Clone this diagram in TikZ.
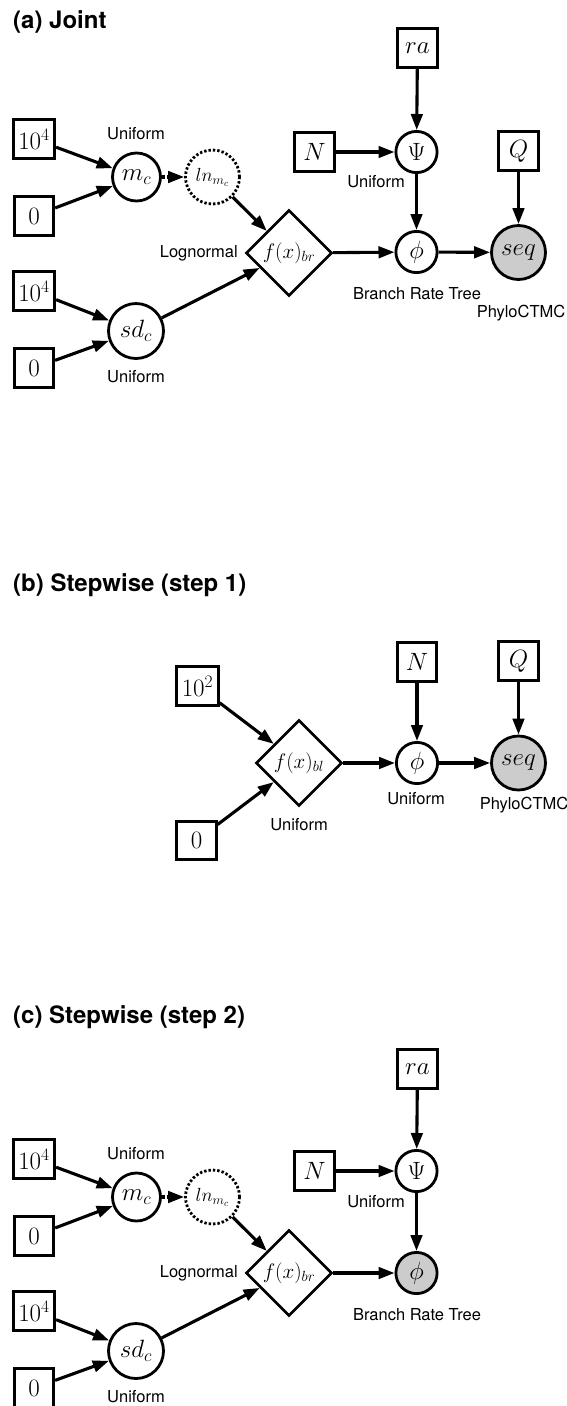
\documentclass[tikz,border=0pt]{standalone}
\usepackage{fix-cm}
\usepackage{fontspec}
\newfontfamily\helv{TeX Gyre Heros}
\usetikzlibrary{shapes.geometric,arrows.meta}
\newcommand{\mfs}{\fontsize{25}{30}\selectfont}
\newcommand{\sfs}{\fontsize{21}{25}\selectfont}
\newcommand{\lfs}{\helv\fontsize{16.5}{20}\selectfont}
\newcommand{\tfs}{\helv\bfseries\fontsize{24}{29}\selectfont}
\tikzset{
  const/.style={draw, line width=2.8pt, minimum width=39.5pt, minimum height=38.5pt, inner sep=5pt, font=\mfs},
  stoch/.style={circle, draw, line width=2.8pt, inner sep=0pt, minimum size=41.2pt, font=\mfs},
  obs/.style={stoch, fill=black!20},
  det/.style={circle, draw, line width=2.8pt, dash pattern=on 2.4pt off 2pt, minimum size=54pt, inner sep=0pt, font=\fontsize{19}{23}\selectfont},
  fn/.style={diamond, draw, line width=2.6pt, minimum size=86pt, inner sep=0pt, aspect=1, font=\sfs},
  lab/.style={inner sep=0pt, font=\lfs},
  ttl/.style={inner sep=0pt, anchor=west, font=\tfs},
  arr/.style={-{Triangle[length=16pt,width=11.5pt]}, line width=3.1pt},
  darr/.style={arr, dash pattern=on 3.5pt off 2pt},
}
\begin{document}
\begin{tikzpicture}[x=1pt,y=-1pt]
\useasboundingbox (0,0) rectangle (566,1406);
% ---------- (a) ----------
\node[ttl] (ta) at (13,22) {(a) Joint};
\node[const] (a104) at (34,139) {$10^4$};
\node[const] (a0) at (34,216) {$0$};
\node[stoch, minimum size=48pt] (amc) at (136.5,177) {$m_c$};
\node[det] (aln) at (212.5,177) {$ln_{m_c}$};
\node[fn] (afx) at (289,253) {$f(x)_{br}$};
\node[const] (a104b) at (34,291) {$10^4$};
\node[const] (a0b) at (34,368) {$0$};
\node[stoch, minimum size=55pt] (asd) at (136,331) {$sd_c$};
\node[const] (aN) at (314.5,152) {$N$};
\node[stoch] (apsi) at (416.5,152) {$\Psi$};
\node[const] (ara) at (417.5,48) {$ra$};
\node[const] (aQ) at (518.5,151) {$Q$};
\node[stoch] (aphi) at (416.5,252) {$\phi$};
\node[obs, minimum size=54pt] (aseq) at (518.5,252.5) {$seq$};
\node[lab] (alu1) at (136,134) {Uniform};
\node[lab, anchor=east] (alog) at (238,253) {Lognormal};
\node[lab] (alu2) at (136,377) {Uniform};
\node[lab] (alu3) at (376,182) {Uniform};
\node[lab] (albr) at (417,294) {Branch Rate Tree};
\node[lab] (alph) at (521,313) {PhyloCTMC};
\draw[arr] (a104) -- (amc);
\draw[arr] (a0) -- (amc);
\draw[darr] (amc) -- (aln);
\draw[arr] (aln) -- (afx);
\draw[arr] (a104b) -- (asd);
\draw[arr] (a0b) -- (asd);
\draw[arr] (asd) -- (afx);
\draw[arr] (aN) -- (apsi);
\draw[arr] (ara) -- (apsi);
\draw[arr] (apsi) -- (aphi);
\draw[arr] (afx) -- (aphi);
\draw[arr] (aphi) -- (aseq);
\draw[arr] (aQ) -- (aseq);
% ---------- (b) ----------
\node[ttl] (tb) at (13,585) {(b) Stepwise (step 1)};
\node[const] (b102) at (197.5,686) {$10^2$};
\node[const] (b0) at (196.5,840.5) {$0$};
\node[fn] (bfx) at (299,763) {$f(x)_{bl}$};
\node[stoch] (bphi) at (417,763) {$\phi$};
\node[const] (bN) at (417,662) {$N$};
\node[const] (bQ) at (518.5,661) {$Q$};
\node[obs, minimum size=54pt] (bseq) at (518.5,763) {$seq$};
\node[lab] (blu1) at (299,825) {Uniform};
\node[lab] (blu2) at (416,799) {Uniform};
\node[lab] (bph) at (524,805) {PhyloCTMC};
\draw[arr] (b102) -- (bfx);
\draw[arr] (b0) -- (bfx);
\draw[arr] (bfx) -- (bphi);
\draw[arr] (bN) -- (bphi);
\draw[arr] (bphi) -- (bseq);
\draw[arr] (bQ) -- (bseq);
% ---------- (c) ----------
\node[ttl] (tc) at (13,1017) {(c) Stepwise (step 2)};
\node[const] (c104) at (34,1159) {$10^4$};
\node[const] (c0) at (34,1236) {$0$};
\node[stoch, minimum size=48pt] (cmc) at (136.5,1197) {$m_c$};
\node[det] (cln) at (212.5,1197) {$ln_{m_c}$};
\node[fn] (cfx) at (289,1273) {$f(x)_{br}$};
\node[const] (c104b) at (34,1311) {$10^4$};
\node[const] (c0b) at (34,1388) {$0$};
\node[stoch, minimum size=55pt] (csd) at (136,1351) {$sd_c$};
\node[const] (cN) at (314.5,1171) {$N$};
\node[stoch] (cpsi) at (416.5,1171) {$\Psi$};
\node[const] (cra) at (417.5,1069) {$ra$};
\node[obs] (cphi) at (416.5,1273) {$\phi$};
\node[lab] (clu1) at (136,1154) {Uniform};
\node[lab, anchor=east] (clog) at (238,1273) {Lognormal};
\node[lab] (clu2) at (136,1397) {Uniform};
\node[lab] (clu3) at (376,1202) {Uniform};
\node[lab] (cbr) at (417,1315) {Branch Rate Tree};
\draw[arr] (c104) -- (cmc);
\draw[arr] (c0) -- (cmc);
\draw[darr] (cmc) -- (cln);
\draw[arr] (cln) -- (cfx);
\draw[arr] (c104b) -- (csd);
\draw[arr] (c0b) -- (csd);
\draw[arr] (csd) -- (cfx);
\draw[arr] (cN) -- (cpsi);
\draw[arr] (cra) -- (cpsi);
\draw[arr] (cpsi) -- (cphi);
\draw[arr] (cfx) -- (cphi);
\end{tikzpicture}
\end{document}
